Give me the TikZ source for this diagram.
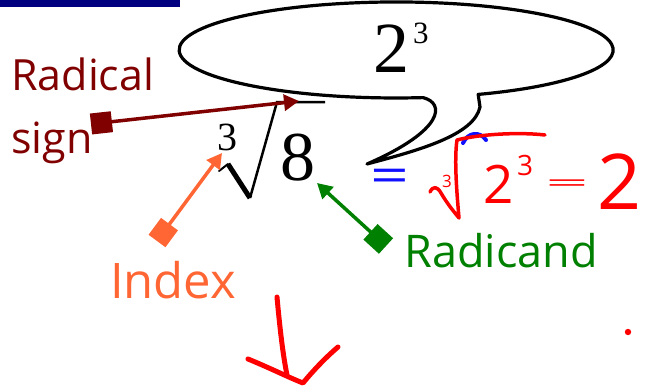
\documentclass[tikz,border=0pt]{standalone}
\usepackage{fontspec}
\setmainfont{Liberation Serif}
\newfontfamily\labelfont{Open Sans}
\usetikzlibrary{arrows.meta}
\definecolor{navybar}{HTML}{000080}
\definecolor{radred}{HTML}{800000}
\definecolor{idxorange}{HTML}{FF6633}
\definecolor{radgreen}{HTML}{008000}
\definecolor{inkblue}{HTML}{1010FF}
\definecolor{inkred}{HTML}{FF0000}
\begin{document}
\begin{tikzpicture}[x=1pt,y=-1pt,
  lbl/.style={inner sep=0pt, anchor=base west},
  glyph/.style={inner sep=0pt, anchor=base west},
  hand/.style={inner sep=0pt, anchor=base, text=inkred, font=\labelfont\fontsize{#1}{#1}\selectfont},
  pointer/.style={line width=3.5pt, draw=#1, fill=#1,
    arrows={Square[length=21pt,width=21pt]-Triangle[length=15pt,width=16pt]}},
  bubble/.style={line width=3.2pt, draw=black, fill=white, line join=round},
  ink/.style={line width=3.5pt, draw=inkred, line cap=round, line join=round}]
\useasboundingbox (0,0) rectangle (650,388);
% top bar
\fill[navybar] (0,0) rectangle (180,7);

% speech bubble
\draw[bubble] (423,97.6) arc[start angle=82.9, end angle=427.8, x radius=217, y radius=48]
  -- (480,107) .. controls (474,135) and (420,150) .. (367,164)
  .. controls (445,130) and (445,103) .. cycle;
\node[glyph, font=\fontsize{72}{72}\selectfont] (base) at (373,72) {2};
\node[glyph, font=\fontsize{31}{31}\selectfont] (power) at (413,43) {3};

% radical 3rd root of 8
\node[glyph, font=\fontsize{70}{70}\selectfont] (eight) at (280,180) {8};
\node[glyph, font=\fontsize{40}{40}\selectfont] (rootidx) at (217,150) {3};
\coordinate (rs1) at (219,171);
\coordinate (rs2) at (228,164);
\coordinate (rs3) at (250,198);
\coordinate (rs4) at (277,102);
\coordinate (rs5) at (325,102);
\draw[line width=2pt, line cap=round] (rs1) -- (rs2);
\draw[line width=5pt] (rs2) -- (rs3);
\draw[line width=2.5pt] (rs3) -- (rs4) -- (rs5);

% labels
\node[lbl, text=radred, font=\labelfont\fontsize{43}{43}\selectfont] (radical) at (11,90) {Radical};
\node[lbl, text=radred, font=\labelfont\fontsize{43}{43}\selectfont] (sign) at (11,153) {sign};
\node[lbl, text=idxorange, font=\labelfont\fontsize{49}{49}\selectfont] (indexlbl) at (110,298) {Index};
\node[lbl, text=radgreen, font=\labelfont\fontsize{45}{45}\selectfont] (radicand) at (404,267) {Radicand};

% pointers
\coordinate (radsq) at (91,124);
\coordinate (radtip) at (299,101);
\coordinate (idxsq) at (157,241);
\coordinate (idxtip) at (222,153);
\coordinate (grnsq) at (386,246);
\coordinate (grntip) at (317,183);
\draw[pointer=radred] (radsq) -- (radtip);
\draw[pointer=idxorange] (idxsq) -- (idxtip);
\draw[pointer=radgreen] (grnsq) -- (grntip);

% blue ink
\node[inner sep=0pt, text=inkblue, font=\labelfont\fontsize{40}{40}\selectfont] (blueeq) at (390,181) {\scalebox{1.7}[1.2]{=}};
\coordinate (ba1) at (463,143);
\coordinate (ba2) at (486,140);
\draw[line width=4pt, inkblue, line cap=round] (ba1) .. controls (468,132) and (480,131) .. (ba2);

% red handwriting
\coordinate (rr1) at (430,192);
\coordinate (rr2) at (441,193);
\coordinate (rr3) at (459,218);
\coordinate (rr4) at (457,140);
\coordinate (rr5) at (545,135);
\draw[ink] (rr1) .. controls (433,186) and (437,186) .. (rr2)
  .. controls (448,205) and (455,213) .. (rr3)
  .. controls (457,195) and (454,160) .. (rr4)
  .. controls (480,134) and (520,132) .. (rr5);
\node[hand=17] (redidx) at (447,187) {3};
\node[hand=53] (redbase) at (499,203) {2};
\node[hand=28] (redpow) at (525,175) {3};
\node[inner sep=0pt, text=inkred, font=\labelfont\fontsize{40}{40}\selectfont] (redeq) at (567,186) {\scalebox{1.9}[0.6]{=}};
\node[hand=77] (redres) at (620,209) {2};

% red arrow down
\coordinate (da1) at (277,297);
\coordinate (da2) at (287,375);
\coordinate (dv1) at (248,359);
\coordinate (dv2) at (303,383);
\coordinate (dv3) at (338,347);
\draw[line width=5pt, inkred, line cap=round] (da1) .. controls (280,330) and (283,355) .. (da2);
\draw[line width=5pt, inkred, line cap=round, line join=round] (dv1) .. controls (270,368) and (290,378) .. (dv2)
  .. controls (312,372) and (325,358) .. (dv3);
\fill[inkred] (628,332) circle[radius=3.2];
\end{tikzpicture}
\end{document}
